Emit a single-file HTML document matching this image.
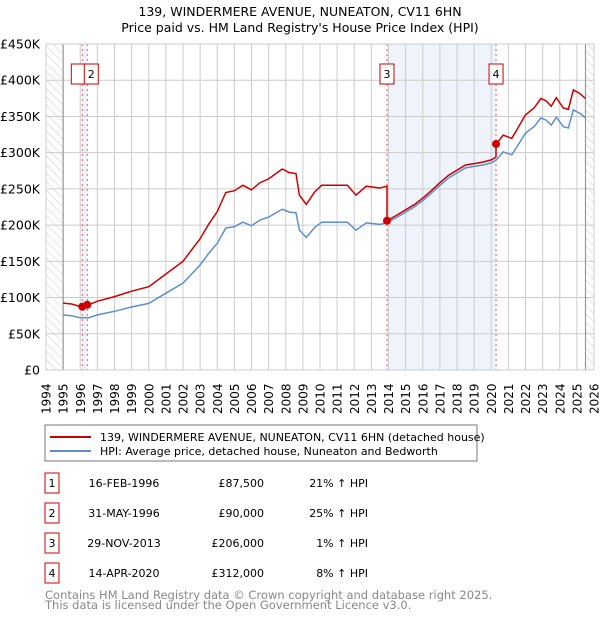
<!DOCTYPE html>
<html><head><meta charset="utf-8"><style>
body{margin:0;background:#fff;font-family:"Liberation Sans","DejaVu Sans",sans-serif;}
svg text{font-family:"DejaVu Sans","Liberation Sans",sans-serif;}
</style></head><body>
<svg id="c" width="600" height="620" xmlns="http://www.w3.org/2000/svg">
<defs><pattern id="hatch" width="6" height="6" patternUnits="userSpaceOnUse" patternTransform="rotate(-45)"><line x1="0" y1="0" x2="0" y2="6" stroke="#ccc" stroke-width="1"/></pattern></defs>
<text x="300" y="16" text-anchor="middle" font-size="12.5">139, WINDERMERE AVENUE, NUNEATON, CV11 6HN</text>
<text x="300" y="32" text-anchor="middle" font-size="12.5">Price paid vs. HM Land Registry's House Price Index (HPI)</text>
<g id="plot"></g>
<rect x="45" y="425" width="432" height="36" fill="#fff" stroke="#777"/>
<line x1="50" y1="437" x2="91" y2="437" stroke="#cc0000" stroke-width="2"/>
<text x="100" y="441" font-size="11">139, WINDERMERE AVENUE, NUNEATON, CV11 6HN (detached house)</text>
<line x1="50" y1="451" x2="91" y2="451" stroke="#5b8fd0" stroke-width="2"/>
<text x="100" y="455" font-size="11">HPI: Average price, detached house, Nuneaton and Bedworth</text>
<g id="table"></g>
<text x="45" y="599" font-size="11.5" fill="#888">Contains HM Land Registry data © Crown copyright and database right 2025.</text>
<text x="45" y="609" font-size="11.5" fill="#888">This data is licensed under the Open Government Licence v3.0.</text>
</svg>
<script>
const hpiYears=[1995,1995.5,1996,1996.5,1997,1998,1999,2000,2001,2002,2003,2003.5,2004,2004.5,2005,2005.5,2006,2006.5,2007,2007.5,2007.8,2008.2,2008.6,2008.8,2009.2,2009.7,2010.1,2010.7,2011.6,2012.1,2012.7,2013.5,2013.9,2014.5,2015,2015.5,2016,2016.5,2017,2017.5,2018,2018.5,2019,2019.5,2020,2020.3,2020.7,2021.2,2021.5,2022,2022.5,2022.9,2023.2,2023.5,2023.8,2024.2,2024.5,2024.8,2025.2,2025.5];
const hpiValues=[76,75,72,72,76,81,87,92,106,120,145,161,175,196,198,204,199,207,211,218,222,218,217,193,183,197,204,204,204,193,203,201,203,211,218,225,234,244,255,265,272,279,281,283,286,290,301,297,308,327,336,348,345,338,349,336,334,359,354,348];
const saleLabels=["1","2","3","4"];
const saleYears=[1996.12,1996.41,2013.91,2020.28];
const salePrices=[87500,90000,206000,312000];
const saleDates=["16-FEB-1996","31-MAY-1996","29-NOV-2013","14-APR-2020"];
const salePriceText=["£87,500","£90,000","£206,000","£312,000"];
const saleHpiText=["21% ↑ HPI","25% ↑ HPI","1% ↑ HPI","8% ↑ HPI"];
const yTicks=[0,50,100,150,200,250,300,350,400,450];
const yTickLabels=["£0","£50K","£100K","£150K","£200K","£250K","£300K","£350K","£400K","£450K"];
const xYears=[1994,1995,1996,1997,1998,1999,2000,2001,2002,2003,2004,2005,2006,2007,2008,2009,2010,2011,2012,2013,2014,2015,2016,2017,2018,2019,2020,2021,2022,2023,2024,2025,2026];

const NS="http://www.w3.org/2000/svg";
const X0=46,X1=594,Y0=370,Y1=44;
const xs=y=>X0+(y-1994)/(2026-1994)*(X1-X0);
const ys=v=>Y0-v/450*(Y0-Y1);
const plot=document.getElementById('plot');
function mk(tag,attrs,parent){const e=document.createElementNS(NS,tag);for(const k in attrs)e.setAttribute(k,attrs[k]);(parent||plot).appendChild(e);return e;}
function hpiAt(y){for(let i=0;i<hpiYears.length-1;i++){if(y<=hpiYears[i+1]){const t=(y-hpiYears[i])/(hpiYears[i+1]-hpiYears[i]);return hpiValues[i]+t*(hpiValues[i+1]-hpiValues[i]);}}return hpiValues[hpiValues.length-1];}

let e;
e=mk('rect',{x:X0,y:Y1,width:X1-X0,height:Y0-Y1,fill:'#fff'});


e=mk('rect',{x:xs(1994),y:Y1,width:xs(1995)-xs(1994),height:Y0-Y1,fill:'url(#hatch)'});


e=mk('rect',{x:xs(2025.5),y:Y1,width:X1-xs(2025.5),height:Y0-Y1,fill:'url(#hatch)'});


e=mk('rect',{x:xs(saleYears[0]),y:Y1,width:xs(saleYears[1])-xs(saleYears[0]),height:Y0-Y1,fill:'#eef3fc'});


e=mk('rect',{x:xs(saleYears[2]),y:Y1,width:xs(saleYears[3])-xs(saleYears[2]),height:Y0-Y1,fill:'#eef3fc'});


xYears.forEach((yr,i)=>{
  const g=mk('line',{x1:xs(yr),x2:xs(yr),y1:Y1,y2:Y0,stroke:'#ccc','stroke-width':1});
  
  
  const t=mk('text',{x:0,y:0,transform:`translate(${xs(yr)+4.5},${Y0+44}) rotate(-90)`,'font-size':'12'});
  t.textContent=yr;
  
  
});
yTicks.forEach((v,i)=>{
  const g=mk('line',{x1:X0,x2:X1,y1:ys(v),y2:ys(v),stroke:'#ccc','stroke-width':1});
  
  
  const t=mk('text',{x:40,y:ys(v)+4.5,'text-anchor':'end','font-size':'12.5'});
  t.textContent=yTickLabels[i];
  
  
});
e=mk('line',{x1:xs(1995),x2:xs(1995),y1:Y1,y2:Y0,stroke:'#888','stroke-width':1});


e=mk('line',{x1:xs(2025.5),x2:xs(2025.5),y1:Y1,y2:Y0,stroke:'#888','stroke-width':1});


saleYears.forEach((sy,i)=>{
  const l=mk('line',{x1:xs(sy),x2:xs(sy),y1:Y1,y2:Y0,stroke:'#e06060','stroke-width':1,'stroke-dasharray':'2,3'});
  
  
});
let d='';hpiYears.forEach((y,i)=>{d+=(i?'L':'M')+xs(y).toFixed(1)+','+ys(hpiValues[i]).toFixed(1);});
e=mk('path',{d:d,fill:'none',stroke:'#5b8fd0','stroke-width':1.5});


const pts=[];
const allYears=[...hpiYears,...saleYears].sort((a,b)=>a-b);
allYears.forEach(y=>{
  let k=0;for(let i=0;i<saleYears.length;i++)if(y>=saleYears[i])k=i;
  const f=salePrices[k]/1000/hpiAt(saleYears[k]);
  if(saleYears.includes(y)&&saleYears.indexOf(y)>0){const kp=saleYears.indexOf(y)-1;pts.push([y,hpiAt(y)*salePrices[kp]/1000/hpiAt(saleYears[kp])]);}
  pts.push([y,hpiAt(y)*f]);
});
d='';pts.forEach((p,i)=>{d+=(i?'L':'M')+xs(p[0]).toFixed(1)+','+ys(p[1]).toFixed(1);});
e=mk('path',{d:d,fill:'none',stroke:'#cc0000','stroke-width':1.5});


saleYears.forEach((sy,i)=>{
  const c=mk('circle',{cx:xs(sy),cy:ys(salePrices[i]/1000),r:4,fill:'#cc0000'});
  
  
  const bx=i===0?xs(sy)-11:(i===1?xs(sy)-3:xs(sy)-7);
  const r=mk('rect',{x:bx,y:64,width:14,height:20,fill:'#fff',stroke:'#cc0000','stroke-width':1});
  
  
  if(i!==0){const t=mk('text',{x:bx+7,y:78,'text-anchor':'middle','font-size':'11'});t.textContent=saleLabels[i];
  
  }
});
e=mk('rect',{x:X0,y:Y1,width:X1-X0,height:Y0-Y1,fill:'none',stroke:'#ccc'});


const tb=document.getElementById('table');
saleYears.forEach((sy,i)=>{
  const cy=483+i*30;
  const r=mk('rect',{x:45,y:cy-10,width:14,height:20,fill:'#fff',stroke:'#cc0000'},tb);
  
  
  const cells=[[52,'middle',saleLabels[i]],[124,'middle',saleDates[i]],[264,'end',salePriceText[i]],[368,'end',saleHpiText[i]]];
  cells.forEach((c,j)=>{const t=mk('text',{x:c[0],y:cy+4,'text-anchor':c[1],'font-size':'11'},tb);t.textContent=c[2];
    
    });
});
</script>
</body></html>
